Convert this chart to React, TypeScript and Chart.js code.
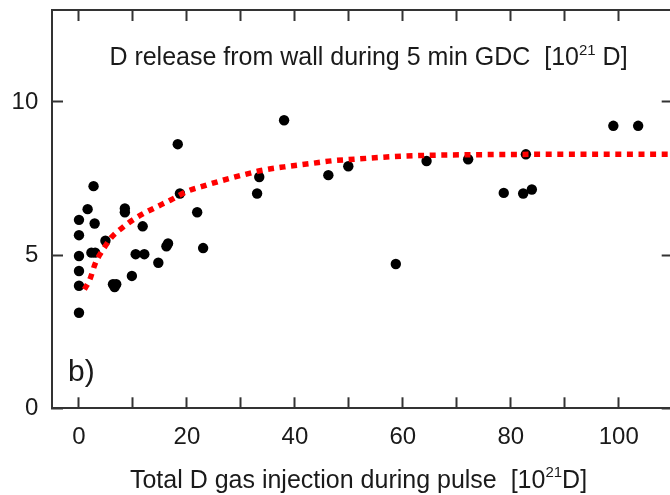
import React, { useEffect, useRef } from "react";
import { Chart, registerables } from "chart.js";

Chart.register(...registerables);

// ---- data ----
const injectionX = [
  0, 0, 0, 0, 0, 0, 1.6, 2.7, 2.9, 2.3, 3.0, 4.9, 6.3, 6.9, 6.6, 8.5, 8.5, 9.8, 10.5, 12.1, 11.8,
  14.7, 16.5, 16.2, 18.3, 18.7, 21.9, 23.0, 33.0, 33.4, 38.0, 46.2, 49.9, 58.7, 64.4, 72.1, 78.7,
  82.3, 82.8, 83.9, 99.0, 103.6,
];
const releaseY = [
  6.15, 5.65, 4.97, 4.48, 4.0, 3.12, 6.5, 7.25, 6.03, 5.08, 5.08, 5.47, 4.05, 4.05, 3.96, 6.52, 6.4,
  4.32, 5.03, 5.03, 5.94, 4.75, 5.38, 5.29, 8.62, 7.01, 6.4, 5.23, 7.01, 7.55, 9.4, 7.61, 7.9, 4.71,
  8.07, 8.13, 7.03, 7.01, 8.29, 7.14, 9.22, 9.22,
];
const fitX = [1, 2, 3, 4, 5, 6, 8, 10, 12, 14, 17, 20, 23, 26, 30, 34, 38, 43, 47, 51, 56, 60, 66, 75, 90, 110];
const fitY = [
  3.88, 4.2, 4.72, 5.06, 5.33, 5.58, 5.89, 6.15, 6.36, 6.54, 6.8, 7.08, 7.25, 7.41, 7.6, 7.77, 7.88,
  7.99, 8.08, 8.13, 8.19, 8.23, 8.26, 8.28, 8.29, 8.29,
];
const xTickValues = [0, 10, 20, 30, 40, 50, 60, 70, 80, 90, 100];
const xLabelValues = [0, 20, 40, 60, 80, 100];
const yTickValues = [0, 5, 10];

const titleParts = [
  { text: "D release from wall during 5 min GDC  [10" },
  { text: "21", sup: true },
  { text: " D]" },
];
const xTitleParts = [
  { text: "Total D gas injection during pulse  [10" },
  { text: "21", sup: true },
  { text: "D]" },
];
const panelLabel = "b)";

const X_MIN = -5;
const X_MAX = 110;
const Y_MIN = 0;
const Y_MAX = 13;

const FONT = "'Liberation Sans', Arial, Helvetica, sans-serif";
const AXIS_COLOR = "#333";
const TEXT_COLOR = "#1a1a1a";
const CANVAS_W = 680;
const CANVAS_H = 495;

type Part = { text: string; sup?: boolean };

function drawRich(ctx: CanvasRenderingContext2D, parts: Part[], cx: number, baseline: number, size: number) {
  const supSize = Math.round(size * 0.6);
  const widths = parts.map((p) => {
    ctx.font = `${p.sup ? supSize : size}px ${FONT}`;
    return ctx.measureText(p.text).width;
  });
  const total = widths.reduce((a, b) => a + b, 0);
  let x = cx - total / 2;
  parts.forEach((p, i) => {
    ctx.font = `${p.sup ? supSize : size}px ${FONT}`;
    ctx.fillText(p.text, x, p.sup ? baseline - size * 0.42 : baseline);
    x += widths[i];
  });
}

const textPlugin = {
  id: "annotTexts",
  afterDraw(chart: any) {
    const ctx: CanvasRenderingContext2D = chart.ctx;
    const a = chart.chartArea;
    ctx.save();
    ctx.fillStyle = TEXT_COLOR;
    ctx.textAlign = "left";
    ctx.textBaseline = "alphabetic";
    drawRich(ctx, titleParts, a.left + 316.5, a.top + 55, 25);
    drawRich(ctx, xTitleParts, a.left + 306.5, a.bottom + 79.4, 25);
    ctx.font = `30px ${FONT}`;
    ctx.fillText(panelLabel, a.left + 16, a.bottom - 27);
    ctx.restore();
  },
};

const gridOpts = {
  drawOnChartArea: false,
  drawTicks: true,
  tickLength: -11,
  tickWidth: 2,
  color: AXIS_COLOR,
};
const borderOpts = { display: true, width: 2, color: AXIS_COLOR };

function noPad(s: any) {
  s.paddingTop = 0;
  s.paddingBottom = 0;
  s.paddingLeft = 0;
  s.paddingRight = 0;
}

export default function App() {
  const ref = useRef<HTMLCanvasElement | null>(null);

  useEffect(() => {
    if (!ref.current) return;
    const chart = new Chart(ref.current, {
      type: "scatter",
      data: {
        datasets: [
          {
            type: "line",
            label: "fit",
            data: fitX.map((x, i) => ({ x, y: fitY[i] })),
            borderColor: "#ff0000",
            borderWidth: 5.5,
            borderDash: [6, 5.6],
            borderCapStyle: "butt",
            pointRadius: 0,
            fill: false,
            cubicInterpolationMode: "monotone",
            order: 0,
          } as any,
          {
            label: "data",
            data: injectionX.map((x, i) => ({ x, y: releaseY[i] })),
            backgroundColor: "#000",
            borderColor: "#000",
            borderWidth: 0,
            pointRadius: 5.2,
            order: 1,
          },
        ],
      },
      options: {
        animation: false,
        responsive: false,
        devicePixelRatio: 1,
        layout: { padding: 0 },
        plugins: { legend: { display: false }, tooltip: { enabled: false }, title: { display: false } },
        scales: {
          x: {
            type: "linear",
            axis: "x",
            position: "bottom",
            min: X_MIN,
            max: X_MAX,
            afterBuildTicks: (s: any) => {
              s.ticks = xTickValues.map((v) => ({ value: v }));
            },
            afterFit: (s: any) => {
              s.height = 86.7;
              noPad(s);
            },
            ticks: {
              autoSkip: false,
              maxRotation: 0,
              padding: 26,
              color: TEXT_COLOR,
              font: { family: FONT, size: 24 },
              callback: (v: any) => (xLabelValues.includes(Number(v)) ? String(v) : ""),
            },
            grid: gridOpts,
            border: borderOpts,
          },
          x2: {
            type: "linear",
            axis: "x",
            position: "top",
            min: X_MIN,
            max: X_MAX,
            afterBuildTicks: (s: any) => {
              s.ticks = xTickValues.map((v) => ({ value: v }));
            },
            afterFit: (s: any) => {
              s.height = 10;
              noPad(s);
            },
            ticks: { display: false },
            grid: gridOpts,
            border: borderOpts,
          },
          y: {
            type: "linear",
            axis: "y",
            position: "left",
            min: Y_MIN,
            max: Y_MAX,
            afterBuildTicks: (s: any) => {
              s.ticks = yTickValues.map((v) => ({ value: v }));
            },
            afterFit: (s: any) => {
              s.width = 52;
              noPad(s);
            },
            ticks: {
              padding: 24.7,
              color: TEXT_COLOR,
              font: { family: FONT, size: 24 },
              callback: (v: any) => String(v),
            },
            grid: gridOpts,
            border: borderOpts,
          },
          y2: {
            type: "linear",
            axis: "y",
            position: "right",
            min: Y_MIN,
            max: Y_MAX,
            afterBuildTicks: (s: any) => {
              s.ticks = yTickValues.map((v) => ({ value: v }));
            },
            afterFit: (s: any) => {
              s.width = CANVAS_W - 672.7;
              noPad(s);
            },
            ticks: { display: false },
            grid: gridOpts,
            border: borderOpts,
          },
        },
      } as any,
      plugins: [textPlugin],
    });
    return () => chart.destroy();
  }, []);

  return (
    <div style={{ position: "absolute", left: 0, top: 0, width: 670, height: 495, overflow: "hidden", background: "#fff" }}>
      <canvas ref={ref} width={CANVAS_W} height={CANVAS_H} style={{ display: "block" }} />
    </div>
  );
}
